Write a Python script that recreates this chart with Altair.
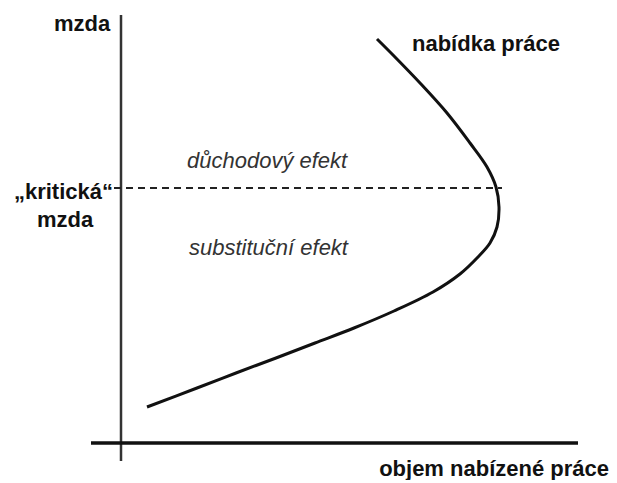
import altair as alt
import pandas as pd

# Labour supply curve (x = quantity of labour, y = wage)
curve_x = [256, 272, 299, 326, 349, 366, 375, 378, 376, 369, 357, 339, 312, 273, 233, 194, 155, 115, 76, 26]
curve_y = [404, 388, 360, 330, 300, 276, 256, 236, 216, 200, 186, 169, 151, 132, 115, 100, 85, 70, 55, 36]

# Axes lines (data units)
vaxis_x = [0]
vaxis_y = [-18]
vaxis_y2 = [428]
haxis_x = [-30]
haxis_x2 = [457]
haxis_y = [0]

# Critical wage dashed line
crit_x = [-7]
crit_x2 = [381]
crit_y = [255]

# Labels
bold_left_text = ["nabídka práce"]
bold_left_x = [291]
bold_left_y = [392]

bold_center_text = ["mzda", "mzda"]
bold_center_x = [-39, -56]
bold_center_y = [412, 216]

bold_right_text = ["„kritická“", "objem nabízené práce"]
bold_right_x = [-8, 488]
bold_right_y = [244, -33]

italic_text = ["důchodový efekt", "substituční efekt"]
italic_x = [66, 68]
italic_y = [275, 188]

X_DOMAIN = [-113, 488]
Y_DOMAIN = [-32, 435]
FONT = "Liberation Sans"
FS = 22

xs = alt.Scale(domain=X_DOMAIN, nice=False, zero=False)
ys = alt.Scale(domain=Y_DOMAIN, nice=False, zero=False)

curve_df = pd.DataFrame({"x": curve_x, "y": curve_y, "o": list(range(len(curve_x)))})
curve = alt.Chart(curve_df).mark_line(
    color="#111111", strokeWidth=3, interpolate="catmull-rom"
).encode(
    x=alt.X("x:Q", scale=xs, axis=None),
    y=alt.Y("y:Q", scale=ys, axis=None),
    order="o:Q",
)

vaxis = alt.Chart(pd.DataFrame({"x": vaxis_x, "y": vaxis_y, "y2": vaxis_y2})).mark_rule(
    color="#333333", strokeWidth=2.5
).encode(
    x=alt.X("x:Q", scale=xs, axis=None),
    y=alt.Y("y:Q", scale=ys, axis=None),
    y2="y2:Q",
)

haxis = alt.Chart(pd.DataFrame({"x": haxis_x, "x2": haxis_x2, "y": haxis_y})).mark_rule(
    color="#111111", strokeWidth=3.5
).encode(
    x=alt.X("x:Q", scale=xs, axis=None),
    x2="x2:Q",
    y=alt.Y("y:Q", scale=ys, axis=None),
)

crit = alt.Chart(pd.DataFrame({"x": crit_x, "x2": crit_x2, "y": crit_y})).mark_rule(
    color="#222222", strokeWidth=2, strokeDash=[7, 5]
).encode(
    x=alt.X("x:Q", scale=xs, axis=None),
    x2="x2:Q",
    y=alt.Y("y:Q", scale=ys, axis=None),
)


def text_layer(texts, x, y, align, style, weight, color):
    df = pd.DataFrame({"t": texts, "x": x, "y": y})
    return alt.Chart(df).mark_text(
        align=align, baseline="alphabetic", font=FONT, fontSize=FS,
        fontWeight=weight, fontStyle=style, color=color
    ).encode(
        x=alt.X("x:Q", scale=xs, axis=None),
        y=alt.Y("y:Q", scale=ys, axis=None),
        text="t:N",
    )


t1 = text_layer(bold_left_text, bold_left_x, bold_left_y, "left", "normal", "bold", "#111111")
t2 = text_layer(bold_center_text, bold_center_x, bold_center_y, "center", "normal", "bold", "#111111")
t3 = text_layer(bold_right_text, bold_right_x, bold_right_y, "right", "normal", "bold", "#111111")
t4 = text_layer(italic_text, italic_x, italic_y, "left", "italic", "normal", "#333333")

chart = alt.layer(vaxis, haxis, crit, curve, t1, t2, t3, t4).properties(
    width=601, height=467, padding=0, background="white"
).configure_view(stroke=None)

chart.save("out.html", embed_options={"renderer": "svg", "actions": False})
